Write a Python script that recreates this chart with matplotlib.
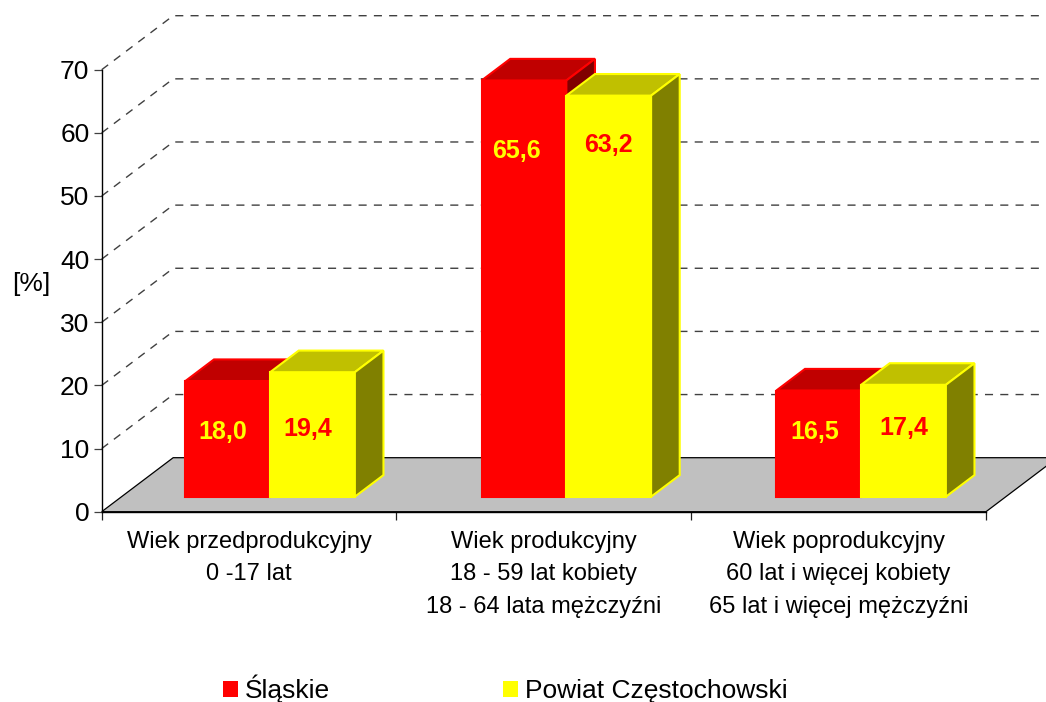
import matplotlib
matplotlib.use('Agg')
import matplotlib.pyplot as plt
from matplotlib.patches import Polygon, Patch

plt.rcParams['font.family'] = ['Liberation Sans', 'DejaVu Sans']

categories = ['Wiek przedprodukcyjny\n0 -17 lat',
              'Wiek produkcyjny\n18 - 59 lat kobiety\n18 - 64 lata mężczyźni',
              'Wiek poprodukcyjny\n60 lat i więcej kobiety\n65 lat i więcej mężczyźni']
slaskie = [18.0, 65.6, 16.5]
powiat = [19.4, 63.2, 17.4]
y_ticks = [0, 10, 20, 30, 40, 50, 60, 70]
series_names = ['Śląskie', 'Powiat Częstochowski']

W, H = 1046, 702
DX = 71.5 / 294.8   # shift of the back wall, x units
DY = 54 / 6.314     # shift of the back wall, y units
BAR_W = 0.2875
Z0, Z1 = 0.315, 0.715   # bar depth range
BASE = -0.32

# group nudge in x units, the first group sits a bit left
group_nudge = [-0.005, 0, 0]
# label offsets from bar top / bar centre, in pixels
red_label_off = [(-5, -51), (-8, -71), (-4, -41)]
yellow_label_off = [(-5, -57), (0, -49), (0, -43)]


def pr(x, y, z):
    return x + z * DX, y + z * DY


def draw_bar(ax, x, val, front, top, side, edge, zo):
    x0, x1 = x, x + BAR_W
    faces = [
        ([pr(x0, BASE, Z0), pr(x1, BASE, Z0), pr(x1, val, Z0), pr(x0, val, Z0)], front),
        ([pr(x0, val, Z0), pr(x1, val, Z0), pr(x1, val, Z1), pr(x0, val, Z1)], top),
        ([pr(x1, BASE, Z0), pr(x1, BASE, Z1), pr(x1, val, Z1), pr(x1, val, Z0)], side),
    ]
    for pts, col in faces:
        ax.add_patch(Polygon(pts, closed=True, facecolor=col, edgecolor=edge,
                             linewidth=1.5, joinstyle='miter', zorder=zo, clip_on=False))


fig = plt.figure(figsize=(W / 100, H / 100), dpi=100)
ax = fig.add_axes([101.7 / W, 1 - 511.7 / H, (986 - 101.7) / W, (511.7 - 69.7) / H])
ax.patch.set_visible(False)
ax.set_xlim(0, 3)
ax.set_ylim(0, 70)

# floor
floor = [pr(0, 0, 0), pr(0, 0, 1), pr(3, 0, 1), pr(3, 0, 0)]
ax.add_patch(Polygon(floor, closed=True, facecolor='#c0c0c0', edgecolor='black',
                     linewidth=0.9, zorder=1, clip_on=False))

# walls
for v in y_ticks[1:]:
    xs, ys = zip(pr(0, v, 0), pr(0, v, 1), pr(3, v, 1))
    ax.plot(xs, ys, color='#404040', lw=1.0, dashes=(5.8, 5.2), zorder=1, clip_on=False)

for i in range(len(categories)):
    x_red = i + 0.5 - BAR_W + group_nudge[i]
    draw_bar(ax, x_red, slaskie[i], '#ff0000', '#c00000', '#800000', '#ff0000', 3)
    draw_bar(ax, x_red + BAR_W, powiat[i], '#ffff00', '#c0c000', '#808000', '#ffff00', 4)

    cx, cy = pr(x_red + BAR_W / 2, slaskie[i], Z0)
    ax.annotate(f'{slaskie[i]:.1f}'.replace('.', ','), (cx, cy),
                xytext=red_label_off[i], textcoords='offset pixels', ha='center', va='center',
                color='#ffff00', fontsize=18, fontweight='bold', zorder=6, annotation_clip=False)
    cx, cy = pr(x_red + 1.5 * BAR_W, powiat[i], Z0)
    ax.annotate(f'{powiat[i]:.1f}'.replace('.', ','), (cx, cy),
                xytext=yellow_label_off[i], textcoords='offset pixels', ha='center', va='center',
                color='#ff0000', fontsize=18, fontweight='bold', zorder=6, annotation_clip=False)

for s in ['top', 'right']:
    ax.spines[s].set_visible(False)
for s in ['left', 'bottom']:
    ax.spines[s].set_linewidth(1.0)
ax.set_yticks(y_ticks)
ax.tick_params(axis='y', length=5.8, width=0.9, color='#404040', labelsize=19, pad=3)
ax.set_xticks([0, 1, 2, 3])
ax.set_xticklabels([])
ax.tick_params(axis='x', which='major', length=6, width=0.9, color='#202020')
ax.set_xticks([0.5, 1.5, 2.5], minor=True)
ax.set_xticklabels(categories, minor=True, fontsize=17, linespacing=1.6)
ax.tick_params(axis='x', which='minor', length=0, pad=14)

fig.text(31 / W, 1 - 284 / H, '[%]', fontsize=19, ha='center', va='center')

handles = [Patch(facecolor='#ff0000', edgecolor='none'), Patch(facecolor='#ffff00', edgecolor='none')]
fig.legend(handles, series_names, loc='center left', bbox_to_anchor=(223 / W, 1 - 689 / H),
           ncol=2, frameon=False, fontsize=19, handlelength=0.57, handleheight=0.6,
           handletextpad=0.27, columnspacing=6.53, borderaxespad=0, borderpad=0)

fig.savefig('out.png', dpi=100)
